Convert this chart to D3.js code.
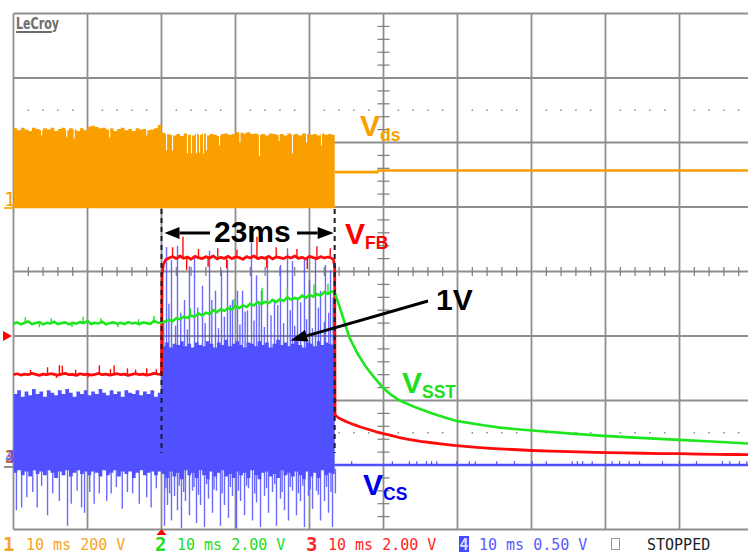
<!DOCTYPE html>
<html>
<head>
<meta charset="utf-8">
<title>Vds, VFB, VSST and VCS at shutdown</title>
<script src="https://cdn.jsdelivr.net/npm/d3@7/dist/d3.min.js"></script>
<style>
  html, body { margin: 0; padding: 0; background: #ffffff; }
  svg { display: block; }
</style>
</head>
<body>
<svg id="scope" width="748" height="554"></svg>
<script>
// Acquisition: 10 ms/div, trigger at t = 0 ms. Envelopes are sampled every 0.5 ms.
const sampleStep = 0.5;
const switchEnd = 23.4;            // ms, switching stops here

// ---- Ch1: Vds (V) ----
const vdsPeakBefore = [244,238,246,240,236,246,242,238,244,240,246,236,242,246,238,244,240,236,244,238,
                       250,252,248,244,246,240,244,236,242,246,238,242,236,244,240,242,238,240,244,254];
const vdsPeakDuring = [230,226,224,222,226,220,228,224,222,226,224,228,222,226,224,220,226,228,224,226,
                       232,230,228,232,226,228,224,226,222,228,226,224,226,222,228,224,226,222,228,226,
                       224,226,222,228,224,226,224];
const vdsDips = [[-16.2,222],[-12.8,218],[-11.8,212],[-7.0,215],[-2.0,222],
                 [0.68,175],[1.49,175],[3.51,166],[4.05,166],[4.73,166],[5.14,169],[5.68,166],
                 [6.08,175],[7.84,191],[10.6,200],[13.24,157],[15.9,205],[17.70,166],[19.6,200],[21.62,191]];
const vdsAfter = [[23.4,108],[29.2,108],[29.3,113],[80,113]];

// ---- Ch4: Vcs (V) ----
const vcsTopBefore = [0.55,0.58,0.53,0.57,0.54,0.59,0.55,0.57,0.53,0.58,0.56,0.54,0.58,0.55,0.59,0.56,0.53,0.57,0.55,0.58,
                      0.54,0.57,0.55,0.59,0.56,0.54,0.58,0.55,0.57,0.53,0.58,0.56,0.55,0.58,0.54,0.57,0.55,0.58,0.53,0.56];
const vcsTopDuring = [0.92,0.95,0.91,0.94,0.93,0.96,0.92,0.94,0.91,0.95,0.93,0.92,0.96,0.94,0.91,0.95,0.93,0.97,0.92,0.94,
                      0.96,0.93,0.91,0.95,0.94,0.92,0.96,0.93,0.95,0.91,0.94,0.97,0.93,0.95,0.92,0.94,0.96,0.93,0.91,0.95,
                      0.94,0.92,0.96,0.93,0.95,0.94,0.93];
const vcsBottomBefore = [-0.06,-0.04,-0.08,-0.05,-0.09,-0.04,-0.07,-0.05,-0.08,-0.04,-0.06,-0.10,-0.05,-0.08,-0.04,-0.09,-0.06,-0.04,-0.07,-0.05,
                         -0.08,-0.05,-0.06,-0.09,-0.04,-0.08,-0.06,-0.04,-0.09,-0.05,-0.07,-0.05,-0.10,-0.06,-0.04,-0.08,-0.06,-0.05,-0.08,-0.05];
const vcsBottomDuring = [-0.07,-0.10,-0.05,-0.09,-0.06,-0.11,-0.04,-0.08,-0.06,-0.10,-0.04,-0.08,-0.11,-0.05,-0.09,-0.06,-0.04,-0.09,-0.07,-0.10,
                         -0.05,-0.08,-0.06,-0.10,-0.04,-0.08,-0.11,-0.06,-0.05,-0.09,-0.07,-0.10,-0.04,-0.08,-0.06,-0.09,-0.05,-0.08,-0.11,-0.05,
                         -0.09,-0.06,-0.10,-0.04,-0.08,-0.06,-0.07];
// spikes above the on-level during switching [t, V]
const vcsSpikesUp = [[0.68,1.69],[1.35,1.59],[2.16,1.70],[3.11,1.28],[3.78,1.54],[4.46,1.62],[5.54,1.39],[6.49,1.66],
                     [7.30,1.35],[8.11,1.51],[8.92,1.59],[9.59,1.28],[10.27,1.35],[10.95,1.35],[11.62,1.20],[12.16,1.74],
                     [12.84,1.47],[13.51,1.35],[14.32,1.62],[15.27,1.28],[16.08,1.55],[17.03,1.68],[17.70,1.58],[18.38,1.28],
                     [19.32,1.59],[20.0,1.43],[20.81,1.61],[21.49,1.35],[22.16,1.55],[22.84,1.51],
                     [0.3,1.12],[1.0,1.25],[1.9,1.08],[2.6,1.18],[3.5,1.05],[4.9,1.22],[5.9,1.10],[6.8,1.28],[7.7,1.06],
                     [8.5,1.15],[9.3,1.24],[10.6,1.09],[11.3,1.19],[12.5,1.12],[13.2,1.27],[13.9,1.07],[14.8,1.16],[15.7,1.24],
                     [16.5,1.10],[17.4,1.20],[18.0,1.08],[18.8,1.26],[19.6,1.13],[20.4,1.06],[21.2,1.22],[22.0,1.11],[22.6,1.18],[23.2,1.30]];
// spikes below ground [t, V]
const vcsSpikesDown = [[-19.6,-0.35],[-18.9,-0.33],[-18.2,-0.25],[-17.4,-0.21],[-16.8,-0.33],[-16.2,-0.16],[-15.4,-0.39],[-14.7,-0.22],
                       [-13.8,-0.28],[-12.7,-0.47],[-12.2,-0.30],[-11.4,-0.20],[-10.8,-0.33],[-10.4,-0.37],[-9.7,-0.21],[-9.1,-0.30],
                       [-8.4,-0.22],[-7.4,-0.28],[-6.8,-0.22],[-6.1,-0.17],[-5.3,-0.34],[-4.6,-0.21],[-3.9,-0.22],[-3.0,-0.30],
                       [-2.0,-0.25],[-1.4,-0.33],[-0.7,-0.18],
                       [0.41,-0.47],[0.81,-0.31],[1.35,-0.43],[1.76,-0.24],[2.16,-0.35],[2.70,-0.49],[3.24,-0.28],[3.78,-0.39],
                       [4.19,-0.20],[4.73,-0.45],[5.27,-0.31],[5.81,-0.48],[6.35,-0.26],[6.89,-0.37],[7.43,-0.20],[7.97,-0.47],
                       [8.51,-0.31],[9.05,-0.41],[9.59,-0.24],[10.14,-0.49],[10.68,-0.28],[11.22,-0.39],[11.76,-0.18],[12.30,-0.43],
                       [12.84,-0.29],[13.38,-0.48],[13.92,-0.24],[14.46,-0.37],[15.0,-0.21],[15.54,-0.47],[16.08,-0.26],[16.62,-0.35],
                       [17.16,-0.43],[17.70,-0.20],[18.24,-0.39],[18.78,-0.28],[19.32,-0.48],[19.86,-0.24],[20.41,-0.34],[20.95,-0.20],
                       [21.49,-0.43],[22.03,-0.28],[22.57,-0.37],[23.11,-0.48],[23.5,-0.22],
                       [0.6,-0.18],[1.1,-0.22],[2.4,-0.16],[3.0,-0.21],[4.4,-0.17],[5.0,-0.23],[6.1,-0.15],[7.1,-0.19],[8.2,-0.22],
                       [9.3,-0.17],[10.4,-0.20],[11.5,-0.16],[12.6,-0.22],[14.2,-0.18],[15.3,-0.15],[16.3,-0.21],[17.4,-0.17],
                       [18.5,-0.22],[19.1,-0.16],[20.1,-0.19],[21.2,-0.23],[22.3,-0.17],[22.9,-0.21]];
const vcsAfter = [[23.4,0],[80,0]];
const vcsAfterTicks = [25.7,31.2,33.5,34.5,35.8,36.5,37.2,39.9,41.6,42.4,45.3,47.7,50.1,52.0,55.5,56.2,56.9,58.2,
                       60.9,61.9,63.2,64.6,67.7,70.0,72.3,75.8,76.8,78.1,79.1];

// ---- Ch3: VFB (V) ----
const fbLevelOff = 2.81, fbLevelOn = 6.43;
const fbBefore = [2.80,2.83,2.79,2.82,2.80,2.84,2.81,2.78,2.82,2.80,2.83,2.81,2.79,2.82,2.84,2.80,2.81,2.78,2.83,2.80,
                  2.82,2.79,2.81,2.84,2.80,2.82,2.79,2.81,2.83,2.80,2.82,2.78,2.81,2.83,2.80,2.82,2.79,2.81,2.84,2.82];
const fbRise = [[0,2.81],[0.08,5.9],[0.25,6.22],[0.55,6.36]];
const fbDuring = [6.42,6.46,6.40,6.48,6.41,6.45,6.38,6.47,6.43,6.40,6.46,6.42,6.48,6.39,6.44,6.41,6.47,6.40,6.45,6.43,
                  6.38,6.46,6.42,6.48,6.40,6.44,6.41,6.47,6.39,6.45,6.43,6.40,6.46,6.42,6.48,6.41,6.44,6.39,6.47,6.43,
                  6.40,6.46,6.42,6.45,6.41];               // t = 1.0 … 23.0
const fbFall = [[23.25,6.36],[23.4,6.15],[23.45,1.55]];
const fbAfter = [[24,1.45],[25,1.34],[26,1.25],[27,1.17],[28,1.10],[29,1.03],[30,0.97],[31,0.92],[32,0.86],[33,0.81],
                 [34,0.77],[35,0.73],[36.5,0.69],[38,0.65],[39.5,0.61],[41,0.58],[43,0.54],[45,0.51],[47.5,0.48],[50,0.45],
                 [52.5,0.43],[55,0.415],[57.5,0.40],[60,0.385],[62.5,0.375],[65,0.365],[67.5,0.355],[70,0.35],[72.5,0.34],
                 [75,0.33],[77.5,0.325],[80,0.32]];
const fbSpikesOff = [[-17.7,2.95],[-15.4,3.03],[-13.8,3.09],[-13.4,3.08],[-11.6,2.95],[-8.4,3.09],[-6.9,2.97],
                     [-6.4,3.09],[-4.6,3.00],[-3.5,2.96],[-2.0,3.00],[-0.7,2.97],[-14.2,2.70],[-9.9,2.72]];
const fbSpikesOn = [[2.9,7.08],[12.9,7.08],[1.5,6.75],[5.0,6.70],[7.6,6.72],[10.2,6.68],[15.5,6.75],[18.3,6.70],
                    [21.0,6.78],[22.8,6.72],[3.4,6.05],[8.8,6.10],[14.2,6.12],[19.7,6.08],[6.3,6.15]];

// ---- Ch2: VSST (V) ----
const sstBefore = [4.38,4.42,4.36,4.41,4.45,4.37,4.40,4.43,4.36,4.41,4.39,4.44,4.37,4.40,4.42,4.36,4.41,4.38,4.43,4.40,
                   4.46,4.37,4.41,4.39,4.44,4.36,4.40,4.42,4.38,4.41,4.37,4.43,4.39,4.41,4.36,4.42,4.40,4.38,4.47,4.41];
const sstRamp = [4.42,4.45,4.50,4.46,4.55,4.52,4.60,4.56,4.63,4.60,4.70,4.64,4.72,4.68,4.80,4.74,4.83,4.78,4.86,4.82,
                 4.92,4.87,4.95,4.90,5.00,4.95,5.05,4.99,5.06,5.02,5.12,5.05,5.14,5.09,5.20,5.13,5.18,5.15,5.25,5.18,
                 5.28,5.22,5.30,5.25,5.36,5.30,5.38];
const sstDecay = [[23.4,5.35],[23.7,5.15],[24.0,4.95],[24.7,4.45],[25.4,3.95],[26.5,3.45],[27.7,3.02],[28.8,2.70],
                  [29.9,2.40],[31.0,2.18],[32.2,2.00],[34.4,1.78],[36.6,1.60],[38.5,1.46],[40.0,1.36],[43.5,1.23],
                  [45.7,1.16],[48.0,1.11],[50.1,1.07],[55.0,0.98],[59.2,0.91],[64.0,0.85],[70.0,0.78],[75.0,0.72],[80.0,0.66]];
// spikes on the VSST trace [t, from V, to V]
const sstSpikes = [[-18.4,4.40,4.58],[-14.9,4.40,4.55],[-10.6,4.40,4.60],[-8.2,4.40,4.55],[-3.1,4.40,4.52],[-1.0,4.40,4.63],
                   [-16.5,4.38,4.27],[-12.1,4.38,4.28],[-5.9,4.38,4.27],
                   [3.9,4.62,4.85],[9.8,4.88,5.15],[13.6,5.02,5.50],[17.0,5.15,5.45],[20.6,5.25,5.60],[22.5,5.32,5.62]];
const triggerLevel = 4.0;          // on ch3

// ---- readout ----
const channelIds = ["1", "2", "3", "4"];
const channelSettings = ["10 ms 200 V", "10 ms 2.00 V", "10 ms 2.00 V", "10 ms 0.50 V"];
const statusText = "STOPPED";
const brandText = "LeCroy";
const spanLabel = "23ms";
const levelLabel = "1V";

// ---------------------------------------------------------------------------
const COLORS = { vds: "#F9A000", sst: "#1EE61E", fb: "#FF0A0A", cs: "#5050FF" };
const CHANNELS = {
  vds: { perDiv: 200, offset: 1 },
  sst: { perDiv: 2, offset: -3 },
  fb:  { perDiv: 2, offset: -3 },
  cs:  { perDiv: 0.5, offset: -3 }
};

const svg = d3.select("#scope");
const x = d3.scaleLinear().domain([-20, 80]).range([13.5, 753.5]);
const div = d3.scaleLinear().domain([-4, 4]).range([529.5, 13.5]);
const yOf = key => v => div(CHANNELS[key].offset + v / CHANNELS[key].perDiv);
const yVds = yOf("vds"), ySst = yOf("sst"), yFb = yOf("fb"), yCs = yOf("cs");
const seq = (t0, vals) => vals.map((v, i) => [t0 + i * sampleStep, v]);

// ---- graticule ----
const grid = svg.append("g").attr("stroke", "#8e8e8e").attr("stroke-width", 1.8);
grid.selectAll("line.v").data(d3.range(0, 11)).join("line")
  .attr("x1", i => x(-20 + 10 * i)).attr("x2", i => x(-20 + 10 * i))
  .attr("y1", div(4)).attr("y2", div(-4));
grid.selectAll("line.h").data(d3.range(-4, 5)).join("line")
  .attr("x1", x(-20)).attr("x2", x(80))
  .attr("y1", d => div(d)).attr("y2", d => div(d));

const minorT = d3.range(0, 51).map(k => -20 + 2 * k).filter(t => (t + 20) % 10 !== 0);
const minorD = d3.range(0, 41).map(k => -4 + 0.2 * k).filter(d => Math.abs(d - Math.round(d)) > 1e-6);
const ticks = svg.append("g").attr("stroke", "#7c7c7c").attr("stroke-width", 1.2);
ticks.selectAll("line.tx").data(minorT).join("line")
  .attr("x1", t => x(t)).attr("x2", t => x(t))
  .attr("y1", div(0) - 4.5).attr("y2", div(0) + 4.5);
ticks.selectAll("line.ty").data(minorD).join("line")
  .attr("x1", x(30) - 6).attr("x2", x(30) + 6)
  .attr("y1", d => div(d)).attr("y2", d => div(d));
const dots = [];
[2.5, -2.5].forEach(d => minorT.forEach(t => dots.push([t, d])));
svg.append("g").attr("fill", "#8a8a8a").selectAll("rect").data(dots).join("rect")
  .attr("x", d => x(d[0]) - 0.75).attr("y", d => div(d[1]) - 0.75)
  .attr("width", 1.5).attr("height", 1.5);

// ---- traces ----
svg.append("clipPath").attr("id", "screen").append("rect")
  .attr("x", x(-20)).attr("y", div(4)).attr("width", x(80) - x(-20)).attr("height", div(-4) - div(4));
const traces = svg.append("g").attr("clip-path", "url(#screen)");
const line = (fx, fy) => d3.line().x(d => fx(d[0])).y(d => fy(d[1]));

// Vds envelope
const vdsEnv = seq(-20, vdsPeakBefore).concat(seq(0, vdsPeakDuring));
vdsEnv.push([switchEnd, vdsPeakDuring[vdsPeakDuring.length - 1]]);
traces.append("path").datum(vdsEnv)
  .attr("fill", COLORS.vds)
  .attr("d", d3.area().curve(d3.curveStepAfter).x(d => x(d[0])).y0(yVds(-4)).y1(d => yVds(d[1])));
traces.append("g").attr("stroke", "#ffffff").attr("stroke-width", 1.1)
  .selectAll("line").data(vdsDips).join("line")
  .attr("x1", d => x(d[0])).attr("x2", d => x(d[0]))
  .attr("y1", d => yVds(d[1])).attr("y2", yVds(275));
traces.append("path").datum(vdsAfter)
  .attr("fill", "none").attr("stroke", COLORS.vds).attr("stroke-width", 2.6)
  .attr("d", line(x, yVds));

// Vcs band
const csTop = seq(-20, vcsTopBefore).concat(seq(0, vcsTopDuring));
const csBot = seq(-20, vcsBottomBefore).concat(seq(0, vcsBottomDuring));
csTop.push([switchEnd, vcsTopDuring[vcsTopDuring.length - 1]]);
csBot.push([switchEnd, vcsBottomDuring[vcsBottomDuring.length - 1]]);
const csBand = csTop.map((d, i) => ({ t: d[0], hi: d[1], lo: csBot[i][1] }));
traces.append("path").datum(csBand)
  .attr("fill", COLORS.cs)
  .attr("d", d3.area().curve(d3.curveStepAfter).x(d => x(d.t)).y0(d => yCs(d.lo)).y1(d => yCs(d.hi)));
const csSpikes = traces.append("g").attr("stroke", COLORS.cs).attr("stroke-width", 1.4).attr("stroke-opacity", 0.85);
csSpikes.selectAll("line.up").data(vcsSpikesUp).join("line")
  .attr("x1", d => x(d[0])).attr("x2", d => x(d[0]))
  .attr("y1", yCs(0.9)).attr("y2", d => yCs(d[1]));
csSpikes.selectAll("line.dn").data(vcsSpikesDown).join("line")
  .attr("x1", d => x(d[0])).attr("x2", d => x(d[0]))
  .attr("y1", yCs(-0.03)).attr("y2", d => yCs(d[1]));
traces.append("path").datum(vcsAfter)
  .attr("fill", "none").attr("stroke", COLORS.cs).attr("stroke-width", 2.6)
  .attr("d", line(x, yCs));
traces.append("g").attr("stroke", COLORS.cs).attr("stroke-width", 1.2)
  .selectAll("line").data(vcsAfterTicks).join("line")
  .attr("x1", t => x(t)).attr("x2", t => x(t))
  .attr("y1", yCs(0)).attr("y2", yCs(0.03));

// VFB
const fbTrace = seq(-20, fbBefore).concat(fbRise, seq(1.0, fbDuring), fbFall, fbAfter);
traces.append("path").datum(fbTrace)
  .attr("fill", "none").attr("stroke", COLORS.fb).attr("stroke-width", 2.8).attr("stroke-linejoin", "round")
  .attr("d", line(x, yFb));
const fbSp = traces.append("g").attr("stroke", COLORS.fb).attr("stroke-width", 1.4);
fbSp.selectAll("line.off").data(fbSpikesOff).join("line")
  .attr("x1", d => x(d[0])).attr("x2", d => x(d[0]))
  .attr("y1", yFb(fbLevelOff)).attr("y2", d => yFb(d[1]));
fbSp.selectAll("line.on").data(fbSpikesOn).join("line")
  .attr("x1", d => x(d[0])).attr("x2", d => x(d[0]))
  .attr("y1", yFb(fbLevelOn)).attr("y2", d => yFb(d[1]));

// VSST
const sstTrace = seq(-20, sstBefore).concat(seq(0, sstRamp), sstDecay);
traces.append("path").datum(sstTrace)
  .attr("fill", "none").attr("stroke", COLORS.sst).attr("stroke-width", 2.6)
  .attr("d", line(x, ySst));
traces.append("g").attr("stroke", COLORS.sst).attr("stroke-width", 1.4)
  .selectAll("line").data(sstSpikes).join("line")
  .attr("x1", d => x(d[0])).attr("x2", d => x(d[0]))
  .attr("y1", d => ySst(d[1])).attr("y2", d => ySst(d[2]));

// ---- time markers and annotations ----
svg.append("g").attr("stroke", "#1a1a2a").attr("stroke-width", 2).attr("stroke-dasharray", "5,4")
  .selectAll("line").data([0, switchEnd]).join("line")
  .attr("x1", t => x(t)).attr("x2", t => x(t))
  .attr("y1", 209).attr("y2", 453);

function arrow(g, x1, y1, x2, y2, head, half) {
  const a = Math.atan2(y2 - y1, x2 - x1);
  const bx = x2 - head * Math.cos(a), by = y2 - head * Math.sin(a);
  g.append("line").attr("x1", x1).attr("y1", y1).attr("x2", bx).attr("y2", by)
    .attr("stroke", "#000").attr("stroke-width", 3);
  const px = -Math.sin(a) * half, py = Math.cos(a) * half;
  g.append("path").attr("fill", "#000")
    .attr("d", `M${x2},${y2}L${bx + px},${by + py}L${bx - px},${by - py}Z`);
}
const ann = svg.append("g");
arrow(ann, 210, 233, x(0) + 3, 233, 15, 6);
arrow(ann, 297, 233, x(switchEnd) - 1, 233, 16, 6);
arrow(ann, 428, 301, x(17.4), yCs(0.965), 17, 6);

const bold = "'Liberation Sans', Arial, Helvetica, sans-serif";
ann.append("text").attr("x", 214).attr("y", 242).attr("font-family", bold).attr("font-weight", "bold")
  .attr("font-size", 30).attr("fill", "#000").text(spanLabel);
ann.append("text").attr("x", 436).attr("y", 310).attr("font-family", bold).attr("font-weight", "bold")
  .attr("font-size", 30).attr("fill", "#000").text(levelLabel);

function traceLabel(px, py, sub, color) {
  const t = svg.append("text").attr("font-family", bold).attr("font-weight", "bold").attr("fill", color)
    .attr("x", px).attr("y", py);
  t.append("tspan").attr("font-size", 30).text("V");
  t.append("tspan").attr("font-size", 17.5).attr("dy", 5).text(sub);
}
traceLabel(360, 136, "ds", COLORS.vds);
traceLabel(345, 244, "FB", "#FF0000");
traceLabel(402, 393, "SST", "#22DD22");
traceLabel(363, 495, "CS", "#0000EE");

// ---- channel ground markers, trigger markers ----
const mono = "'DejaVu Sans Mono', 'Liberation Mono', monospace";
const marks = svg.append("g");
marks.append("text").attr("x", 4).attr("y", yVds(0) - 1).attr("font-family", mono).attr("font-size", 19)
  .attr("fill", COLORS.vds).text(channelIds[0]);
marks.append("line").attr("x1", 4).attr("x2", 14).attr("y1", yVds(0) + 1).attr("y2", yVds(0) + 1)
  .attr("stroke", COLORS.vds).attr("stroke-width", 1.6);
[["#22cc22", channelIds[1]], ["#ff2020", channelIds[2]], ["#5050ff", channelIds[3]]].forEach((m, i) => {
  marks.append("text").attr("x", 5).attr("y", yCs(0) - 2).attr("font-family", mono).attr("font-weight", "bold")
    .attr("font-size", 17).attr("fill", m[0]).attr("fill-opacity", 0.7).text(m[1]);
});
marks.append("line").attr("x1", 4).attr("x2", 14).attr("y1", yCs(0) + 2).attr("y2", yCs(0) + 2)
  .attr("stroke", "#777").attr("stroke-width", 1.6);
const ty = yFb(triggerLevel);
marks.append("path").attr("fill", "#ff0000").attr("d", `M3,${ty - 5}L12,${ty}L3,${ty + 5}Z`);
const tx = x(0);
marks.append("path").attr("fill", "#ff0000").attr("d", `M${tx},529L${tx + 5},535L${tx - 5},535Z`);

// ---- brand ----
svg.append("text").attr("x", 16).attr("y", 29).attr("font-family", "'DejaVu Sans Condensed', 'DejaVu Sans', sans-serif")
  .attr("font-weight", "bold").attr("font-size", 15).attr("fill", "#6e6e6e")
  .attr("textLength", 43).attr("lengthAdjust", "spacingAndGlyphs").text(brandText);
svg.append("line").attr("x1", 16).attr("x2", 52).attr("y1", 32).attr("y2", 32)
  .attr("stroke", "#6e6e6e").attr("stroke-width", 2);

// ---- readout line ----
const ro = svg.append("g").attr("font-family", mono);
const idX = [3, 155, 306], setX = [26, 177, 328];
const roColors = ["#F7A425", "#22DD22", "#FF2424"];
[0, 1, 2].forEach(i => {
  ro.append("text").attr("x", idX[i]).attr("y", 551).attr("font-size", 19).attr("font-weight", "bold")
    .attr("fill", roColors[i]).text(channelIds[i]);
  ro.append("text").attr("x", setX[i]).attr("y", 550).attr("font-size", 15)
    .attr("fill", roColors[i]).text(channelSettings[i]);
});
ro.append("rect").attr("x", 459).attr("y", 536).attr("width", 10).attr("height", 16).attr("fill", "#4848ff");
ro.append("text").attr("x", 459.5).attr("y", 550).attr("font-size", 15).attr("font-weight", "bold")
  .attr("fill", "#dcdcff").text(channelIds[3]);
ro.append("text").attr("x", 479).attr("y", 550).attr("font-size", 15).attr("fill", "#5a5aff").text(channelSettings[3]);
ro.append("rect").attr("x", 611.5).attr("y", 538.5).attr("width", 8).attr("height", 11)
  .attr("fill", "none").attr("stroke", "#999").attr("stroke-width", 1);
ro.append("text").attr("x", 647).attr("y", 550).attr("font-size", 15).attr("fill", "#222").text(statusText);
</script>
</body>
</html>
